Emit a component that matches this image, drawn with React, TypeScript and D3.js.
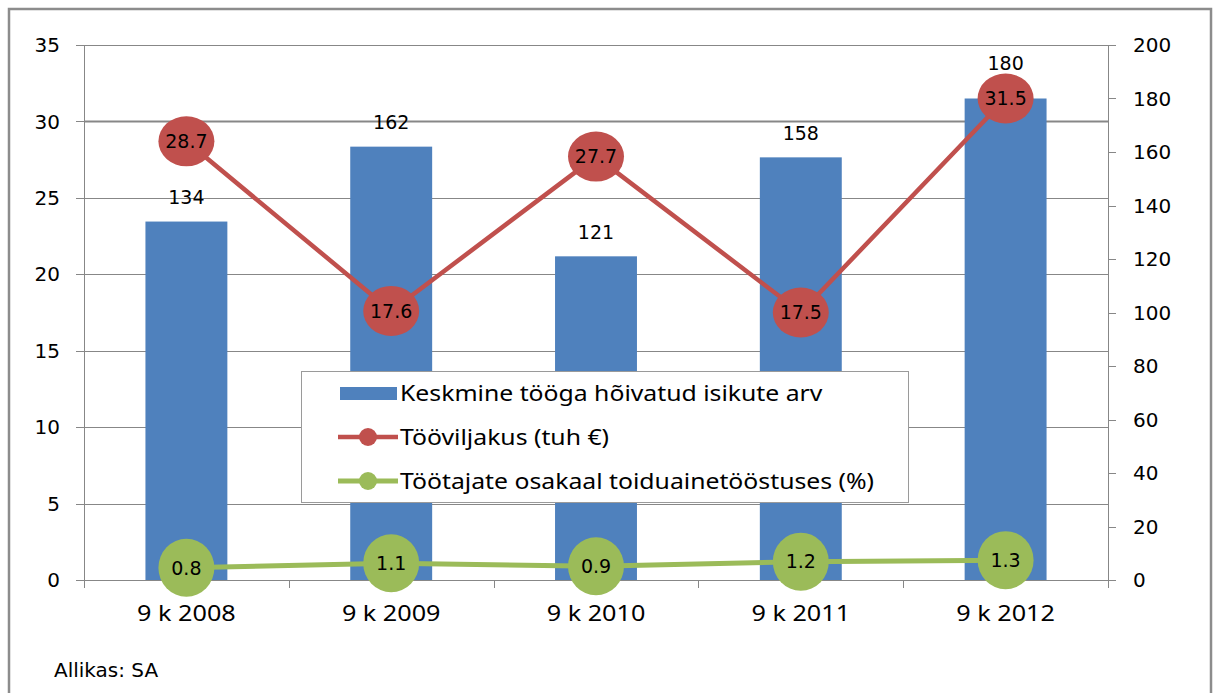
import React, { useEffect, useRef } from 'react';
import * as d3 from 'd3';

const categories = ['9 k 2008', '9 k 2009', '9 k 2010', '9 k 2011', '9 k 2012'];
const employed = [134, 162, 121, 158, 180];
const productivity = [28.7, 17.6, 27.7, 17.5, 31.5];
const shareOfWorkers = [0.8, 1.1, 0.9, 1.2, 1.3];
const leftTicks = [0, 5, 10, 15, 20, 25, 30, 35];
const rightTicks = [0, 20, 40, 60, 80, 100, 120, 140, 160, 180, 200];
const legendLabels = [
  'Keskmine tööga hõivatud isikute arv',
  'Tööviljakus (tuh €)',
  'Töötajate osakaal toiduainetööstuses (%)',
];

const BLUE = '#4F81BD';
const RED = '#C0504D';
const GREEN = '#9BBB59';
const GRID = '#878787';

const width = 1213;
const height = 693;

function Chart() {
  const svgRef = useRef<SVGSVGElement>(null);

  useEffect(() => {
    if (!svgRef.current) return;
    d3.select(svgRef.current).selectAll('*').remove();

    const plot = { left: 84, right: 1108, top: 45, bottom: 580 };
    const numFont = 'DejaVu Sans, sans-serif';
    const textFont = 'Noto Sans, sans-serif';

    const svg = d3.select(svgRef.current)
      .attr('width', width)
      .attr('height', height);

    svg.append('rect')
      .attr('width', width).attr('height', height).attr('fill', '#fff');

    // outer frame (bottom edge lies outside the picture)
    svg.append('rect')
      .attr('x', 9).attr('y', 9)
      .attr('width', 1202).attr('height', 720)
      .attr('fill', 'none')
      .attr('stroke', '#8c8c8c')
      .attr('stroke-width', 2.5);

    const x = d3.scaleBand<string>()
      .domain(categories)
      .range([plot.left, plot.right])
      .paddingInner(0.6)
      .paddingOuter(0.3);
    const step = x.step();
    const cx = (c: string) => (x(c) || 0) + x.bandwidth() / 2;

    const yLeft = d3.scaleLinear().domain([0, 35]).range([plot.bottom, plot.top]);
    const yRight = d3.scaleLinear().domain([0, 200]).range([plot.bottom, plot.top]);

    // gridlines
    svg.append('g').selectAll('line')
      .data(leftTicks.filter(t => t > 0))
      .enter().append('line')
      .attr('x1', plot.left).attr('x2', plot.right)
      .attr('y1', d => Math.round(yLeft(d)) + 0.5)
      .attr('y2', d => Math.round(yLeft(d)) + 0.5)
      .attr('stroke', GRID)
      .attr('stroke-width', d => (d === 30 ? 2 : 1));

    // left axis
    const left = svg.append('g');
    left.append('line')
      .attr('x1', plot.left + 0.5).attr('x2', plot.left + 0.5)
      .attr('y1', plot.top).attr('y2', plot.bottom)
      .attr('stroke', GRID);
    left.selectAll('line.tick')
      .data(leftTicks)
      .enter().append('line')
      .attr('class', 'tick')
      .attr('x1', plot.left - 8).attr('x2', plot.left)
      .attr('y1', d => Math.round(yLeft(d)) + 0.5)
      .attr('y2', d => Math.round(yLeft(d)) + 0.5)
      .attr('stroke', GRID);
    left.selectAll('text')
      .data(leftTicks)
      .enter().append('text')
      .attr('x', 60)
      .attr('y', d => yLeft(d))
      .attr('dy', '0.36em')
      .attr('text-anchor', 'end')
      .style('font-family', numFont)
      .style('font-size', '20px')
      .text(d => d);

    // right axis
    const right = svg.append('g');
    right.append('line')
      .attr('x1', plot.right + 0.5).attr('x2', plot.right + 0.5)
      .attr('y1', plot.top).attr('y2', plot.bottom)
      .attr('stroke', GRID);
    right.selectAll('line.tick')
      .data(rightTicks)
      .enter().append('line')
      .attr('class', 'tick')
      .attr('x1', plot.right).attr('x2', plot.right + 8)
      .attr('y1', d => Math.round(yRight(d)) + 0.5)
      .attr('y2', d => Math.round(yRight(d)) + 0.5)
      .attr('stroke', GRID);
    right.selectAll('text')
      .data(rightTicks)
      .enter().append('text')
      .attr('x', 1133)
      .attr('y', d => yRight(d))
      .attr('dy', '0.36em')
      .style('font-family', numFont)
      .style('font-size', '20px')
      .text(d => d);

    // bars
    svg.append('g').selectAll('rect')
      .data(employed)
      .enter().append('rect')
      .attr('x', (d, i) => x(categories[i]) || 0)
      .attr('y', d => yRight(d))
      .attr('width', x.bandwidth())
      .attr('height', d => plot.bottom - yRight(d))
      .attr('fill', BLUE);

    // bar labels, lifted when they would sit under a line marker
    svg.append('g').selectAll('text')
      .data(employed)
      .enter().append('text')
      .attr('x', (d, i) => cx(categories[i]))
      .attr('y', (d, i) => {
        let ly = yRight(d) - 24;
        const my = yLeft(productivity[i]);
        if (Math.abs(ly - my) < 30) ly = my - 35;
        return ly;
      })
      .attr('dy', '0.36em')
      .attr('text-anchor', 'middle')
      .style('font-family', numFont)
      .style('font-size', '19px')
      .text(d => d);

    // x axis
    const xAxis = svg.append('g');
    xAxis.append('line')
      .attr('x1', plot.left).attr('x2', plot.right)
      .attr('y1', plot.bottom + 0.5).attr('y2', plot.bottom + 0.5)
      .attr('stroke', GRID);
    xAxis.selectAll('line.tick')
      .data(d3.range(categories.length + 1))
      .enter().append('line')
      .attr('class', 'tick')
      .attr('x1', i => Math.round(plot.left + i * step) + 0.5)
      .attr('x2', i => Math.round(plot.left + i * step) + 0.5)
      .attr('y1', plot.bottom).attr('y2', plot.bottom + 8)
      .attr('stroke', GRID);
    // the source picture is stretched sideways, so the text is too
    xAxis.selectAll('text')
      .data(categories)
      .enter().append('text')
      .attr('transform', d => `translate(${cx(d)},613) scale(1.2,1)`)
      .attr('dy', '0.36em')
      .attr('text-anchor', 'middle')
      .style('font-family', textFont)
      .style('font-size', '21px')
      .text(d => d);

    // line series with elliptical markers
    const drawSeries = (values: number[], color: string, lw: number, rx: number, ry: number) => {
      const line = d3.line<number>()
        .x((d, i) => cx(categories[i]))
        .y(d => yLeft(d));
      const g = svg.append('g');
      g.append('path')
        .datum(values)
        .attr('d', line)
        .attr('fill', 'none')
        .attr('stroke', color)
        .attr('stroke-width', lw)
        .attr('stroke-linejoin', 'round');
      g.selectAll('ellipse')
        .data(values)
        .enter().append('ellipse')
        .attr('cx', (d, i) => cx(categories[i]))
        .attr('cy', d => yLeft(d))
        .attr('rx', rx).attr('ry', ry)
        .attr('fill', color);
      g.selectAll('text')
        .data(values)
        .enter().append('text')
        .attr('x', (d, i) => cx(categories[i]))
        .attr('y', d => yLeft(d))
        .attr('dy', '0.36em')
        .attr('text-anchor', 'middle')
        .style('font-family', numFont)
        .style('font-size', '19px')
        .text(d => d3.format('.1f')(d));
    };
    drawSeries(productivity, RED, 4.5, 28, 25);
    drawSeries(shareOfWorkers, GREEN, 5, 28, 29);

    // legend
    const legend = svg.append('g');
    legend.append('rect')
      .attr('x', 301.5).attr('y', 371.5)
      .attr('width', 607).attr('height', 131)
      .attr('fill', '#fff')
      .attr('stroke', '#9a9a9a');
    const rowY = [393, 437, 481];
    legend.append('rect')
      .attr('x', 340).attr('y', rowY[0] - 6)
      .attr('width', 57).attr('height', 13)
      .attr('fill', BLUE);
    [RED, GREEN].forEach((c, k) => {
      const yy = rowY[k + 1];
      legend.append('line')
        .attr('x1', 338).attr('x2', 398)
        .attr('y1', yy).attr('y2', yy)
        .attr('stroke', c).attr('stroke-width', k === 0 ? 4.5 : 5);
      legend.append('circle')
        .attr('cx', 368).attr('cy', yy).attr('r', 9)
        .attr('fill', c);
    });
    legend.selectAll('text')
      .data(legendLabels)
      .enter().append('text')
      .attr('transform', (d, i) => `translate(400,${rowY[i]}) scale(1.18,1)`)
      .attr('dy', '0.36em')
      .style('font-family', textFont)
      .style('font-size', '21px')
      .text(d => d);

    // source note
    svg.append('text')
      .attr('x', 54).attr('y', 670)
      .attr('dy', '0.36em')
      .style('font-family', numFont)
      .style('font-size', '20px')
      .text('Allikas: SA');
  }, []);

  return <svg ref={svgRef} style={{ display: 'block' }} />;
}

export default function App() {
  useEffect(() => {
    document.body.style.margin = '0';
  }, []);
  return <Chart />;
}
